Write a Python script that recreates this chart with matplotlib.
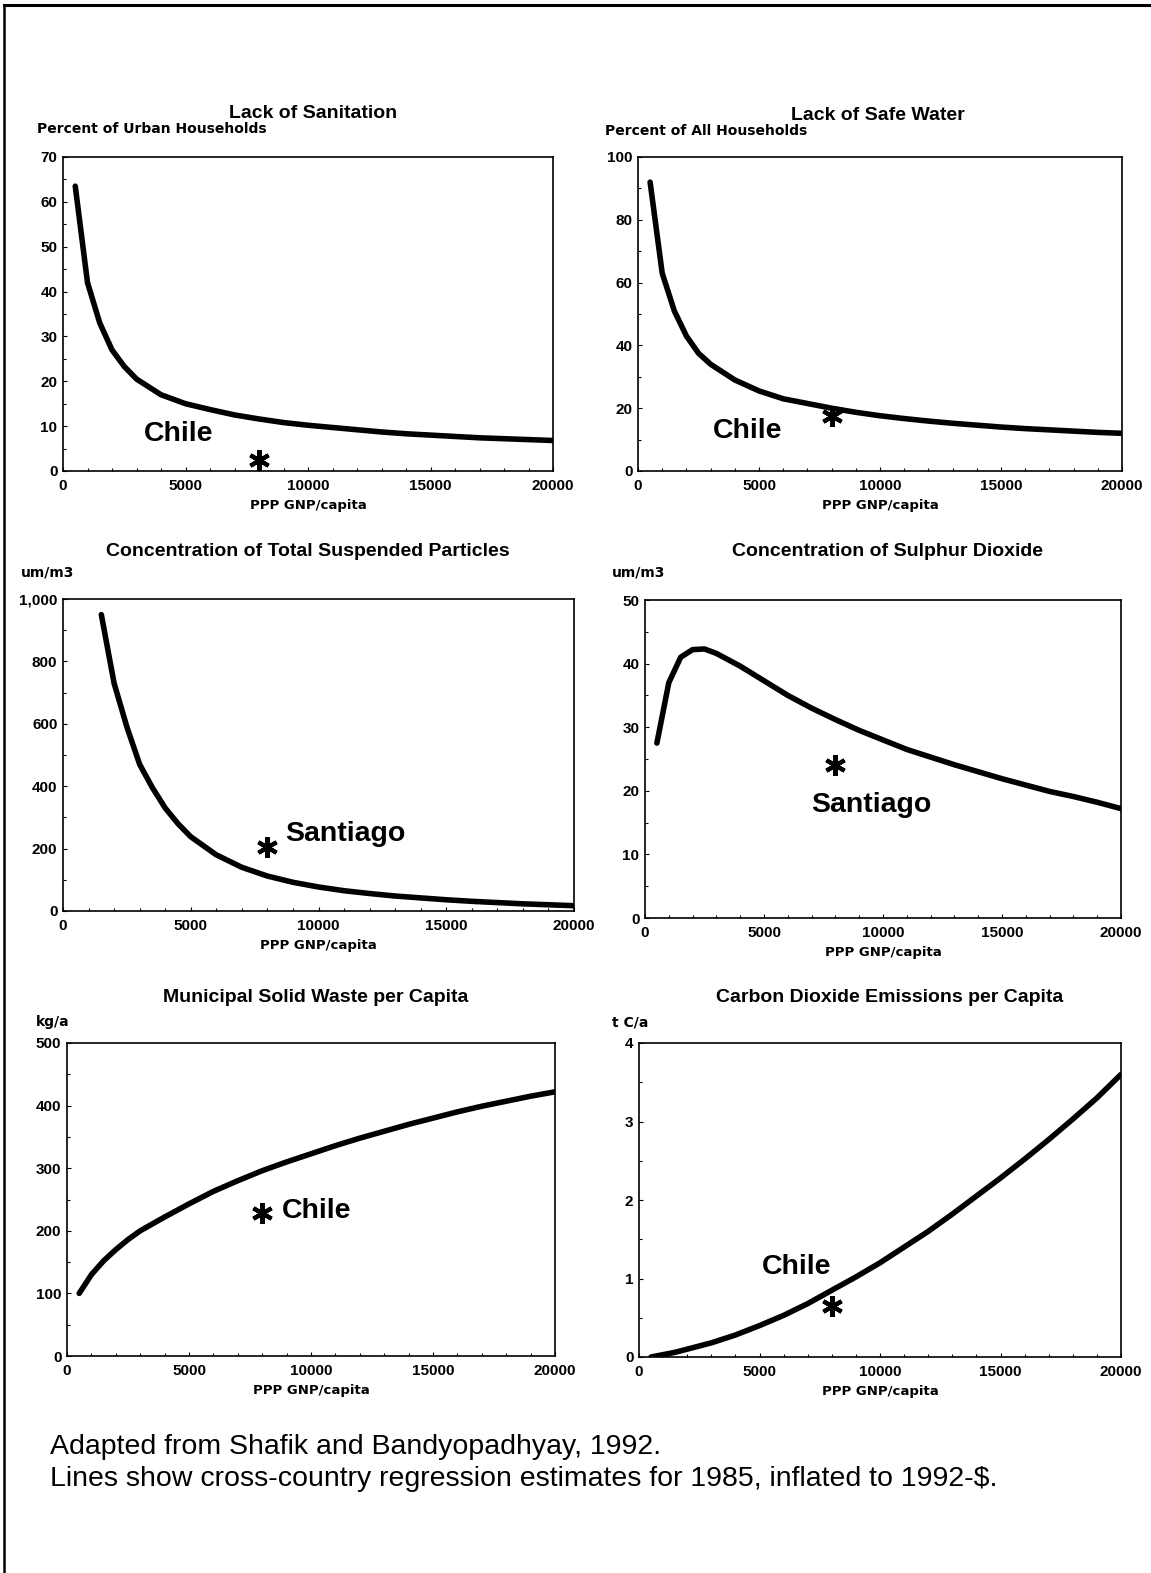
import numpy as np
import matplotlib
matplotlib.use("Agg")
import matplotlib.pyplot as plt
from matplotlib.ticker import MultipleLocator, FuncFormatter
from matplotlib.lines import Line2D

plt.rcParams['font.family'] = ['Liberation Sans', 'DejaVu Sans']

# ---------------- data ----------------
gnp = [500, 1000, 1500, 2000, 2500, 3000, 4000, 5000, 6000, 7000, 8000, 9000, 10000,
       11000, 12000, 13000, 14000, 15000, 16000, 17000, 18000, 19000, 20000]

sanitation = [63.5, 42, 33, 27, 23.3, 20.5, 17, 15, 13.7, 12.5, 11.6, 10.8, 10.2,
              9.7, 9.2, 8.7, 8.3, 8.0, 7.7, 7.4, 7.2, 7.0, 6.8]
safe_water = [92, 63, 51, 43, 37.5, 34, 29, 25.5, 23, 21.5, 20, 18.7, 17.6,
              16.7, 15.9, 15.2, 14.6, 14.0, 13.5, 13.1, 12.7, 12.3, 12.0]
tsp_gnp = [1500, 2000, 2500, 3000, 3500, 4000, 4500, 5000, 6000, 7000, 8000, 9000, 10000,
           11000, 12000, 13000, 14000, 15000, 16000, 17000, 18000, 19000, 20000]
tsp = [950, 730, 590, 470, 395, 330, 280, 238, 180, 140, 112, 92, 77,
       65, 56, 48, 42, 36, 31, 27, 23, 20, 17]
so2 = [27.5, 37, 41, 42.2, 42.3, 41.6, 39.6, 37.3, 35, 33, 31.2, 29.5, 28,
       26.5, 25.3, 24.1, 23.0, 21.9, 20.9, 19.9, 19.1, 18.2, 17.2]
msw = [100, 130, 152, 170, 186, 200, 222, 243, 263, 280, 296, 310, 323,
       336, 348, 359, 370, 380, 390, 399, 407, 415, 422]
co2 = [0.0, 0.03, 0.06, 0.1, 0.14, 0.18, 0.28, 0.4, 0.53, 0.68, 0.85, 1.02, 1.2,
       1.4, 1.6, 1.82, 2.05, 2.28, 2.52, 2.77, 3.03, 3.3, 3.6]

star_x = 8000
star_y = [2.5, 17.5, 205, 24, 228, 0.65]

titles = ["Lack of Sanitation", "Lack of Safe Water",
          "Concentration of Total Suspended Particles", "Concentration of Sulphur Dioxide",
          "Municipal Solid Waste per Capita", "Carbon Dioxide Emissions per Capita"]
units = ["Percent of Urban Households", "Percent of All Households",
         "um/m3", "um/m3", "kg/a", "t C/a"]
labels = ["Chile", "Chile", "Santiago", "Santiago", "Chile", "Chile"]
label_xy = [(3300, 8.3), (3100, 12.8), (8700, 247), (9500, 17.8), (8800, 232), (6550, 1.15)]
label_ha = ["left", "left", "left", "center", "left", "center"]
ymax = [70, 100, 1000, 50, 500, 4]
ystep = [10, 20, 200, 10, 100, 1]
xlabel = "PPP GNP/capita"
caption1 = "Adapted from Shafik and Bandyopadhyay, 1992."
caption2 = "Lines show cross-country regression estimates for 1985, inflated to 1992-$."

series_x = [gnp, gnp, tsp_gnp, gnp, gnp, gnp]
series_y = [sanitation, safe_water, tsp, so2, msw, co2]

# ---------------- layout (pixels) ----------------
W, H = 1151, 1573
fig = plt.figure(figsize=(W / 100, H / 100), dpi=100)

boxes = [(63, 553, 157, 471), (638, 1122, 157, 471),
         (63, 574, 599, 911), (645, 1121, 600, 918),
         (67, 555, 1043, 1356), (639, 1121, 1043, 1357)]
title_pos = [(313, 113), (878, 115), (308, 551), (887, 551), (316, 997), (890, 997)]
unit_pos = [(37, 129), (605, 131), (21, 572), (612, 572), (36, 1022), (612, 1022)]
wide_bold = ['DejaVu Sans']

for i in range(6):
    L, R, T, B = boxes[i]
    ax = fig.add_axes([L / W, 1 - B / H, (R - L) / W, (B - T) / H])
    ax.plot(series_x[i], series_y[i], color='black', lw=4.0, solid_capstyle='round',
            solid_joinstyle='round')
    ax.plot([star_x], [star_y[i]], marker=(6, 2, 0), ms=15, mew=3, color='black')
    ax.text(label_xy[i][0], label_xy[i][1], labels[i], fontsize=20.5, fontweight='bold',
            ha=label_ha[i], va='center')
    ax.set_xlim(0, 20000)
    ax.set_ylim(0, ymax[i])
    ax.set_xticks([0, 5000, 10000, 15000, 20000])
    ax.set_yticks(np.arange(0, ymax[i] + ystep[i] / 2, ystep[i]))
    ax.xaxis.set_minor_locator(MultipleLocator(1000))
    ax.yaxis.set_minor_locator(MultipleLocator(ystep[i] / 2))
    if ymax[i] >= 1000:
        ax.yaxis.set_major_formatter(FuncFormatter(lambda v, p: f"{int(v):,}"))
    ax.tick_params(which='both', direction='in', length=3, width=0.8,
                   labelsize=11, pad=4)
    ax.tick_params(axis='x', which='major', pad=6)
    ax.tick_params(which='minor', length=2)
    for lab in ax.get_xticklabels() + ax.get_yticklabels():
        lab.set_fontweight('bold')
    for sp in ax.spines.values():
        sp.set_linewidth(1.2)
    ax.set_xlabel(xlabel, fontsize=9.5, fontweight='bold', labelpad=4, family=wide_bold)
    fig.text(title_pos[i][0] / W, 1 - title_pos[i][1] / H, titles[i], fontsize=14,
             fontweight='bold', ha='center', va='center')
    fig.text(unit_pos[i][0] / W, 1 - unit_pos[i][1] / H, units[i], fontsize=10,
             fontweight='bold', ha='left', va='center', family=wide_bold)

fig.text(50 / W, 1 - 1447 / H, caption1, fontsize=20.5, ha='left', va='center')
fig.text(50 / W, 1 - 1479 / H, caption2, fontsize=20.5, ha='left', va='center')

# page frame (top and left edges)
fig.add_artist(Line2D([4 / W, 4 / W], [0, 1 - 5 / H], transform=fig.transFigure,
                      color='black', lw=1.8))
fig.add_artist(Line2D([4 / W, 1], [1 - 5 / H, 1 - 5 / H], transform=fig.transFigure,
                      color='black', lw=2.2))

fig.savefig("out.png", dpi=100, facecolor='white')
